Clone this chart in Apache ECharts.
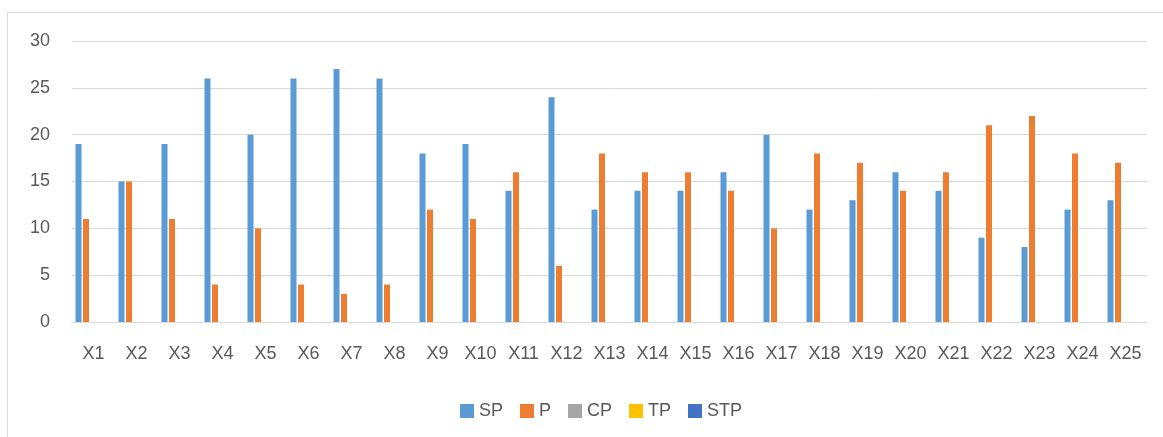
<!DOCTYPE html>
<html><head><meta charset="utf-8">
<script src="https://cdn.jsdelivr.net/npm/echarts@6/dist/echarts.min.js"></script>
<style>html,body{margin:0;padding:0;background:#fff}#c{width:1163px;height:437px}</style>
</head><body><div id="c"></div>
<script>
const categories = ['X1','X2','X3','X4','X5','X6','X7','X8','X9','X10','X11','X12','X13','X14','X15','X16','X17','X18','X19','X20','X21','X22','X23','X24','X25'];
const SP = [19,15,19,26,20,26,27,26,18,19,14,24,12,14,14,16,20,12,13,16,14,9,8,12,13];
const P  = [11,15,11,4,10,4,3,4,12,11,16,6,18,16,16,14,10,18,17,14,16,21,22,18,17];
const CP = [0,0,0,0,0,0,0,0,0,0,0,0,0,0,0,0,0,0,0,0,0,0,0,0,0];
const TP = [0,0,0,0,0,0,0,0,0,0,0,0,0,0,0,0,0,0,0,0,0,0,0,0,0];
const STP = [0,0,0,0,0,0,0,0,0,0,0,0,0,0,0,0,0,0,0,0,0,0,0,0,0];
const seriesNames = ['SP','P','CP','TP','STP'];
const seriesData = [SP,P,CP,TP,STP];
const colors = ['#5B9BD5','#ED7D31','#A5A5A5','#FFC000','#4472C4'];
const font = 'Liberation Sans, Arial, sans-serif';
const chart = echarts.init(document.getElementById('c'));
chart.setOption({
  animation:false,
  color:colors,
  graphic:[{type:'rect',shape:{x:7.5,y:12.5,width:1170,height:450},style:{fill:'none',stroke:'#d9d9d9',lineWidth:1},silent:true}],
  grid:{left:72,right:16,top:41,bottom:115},
  legend:{top:397,left:455,itemWidth:14,itemHeight:14,itemGap:17,icon:'rect',
    textStyle:{color:'#595959',fontSize:18,fontFamily:font},data:seriesNames},
  xAxis:{type:'category',data:categories,axisTick:{show:false},
    axisLine:{lineStyle:{color:'#d9d9d9',width:1}},
    axisLabel:{color:'#595959',fontSize:18,fontFamily:font,margin:23,interval:0}},
  yAxis:{type:'value',min:0,max:30,interval:5,
    splitLine:{lineStyle:{color:'#d9d9d9',width:1}},
    axisLine:{show:false},axisTick:{show:false},
    axisLabel:{color:'#595959',fontSize:18,fontFamily:font,margin:22}},
  series:seriesData.map((d,i)=>({name:seriesNames[i],type:'bar',data:d,barWidth:6,barGap:'25%',
    itemStyle:{color:colors[i]}}))
});
</script></body></html>
